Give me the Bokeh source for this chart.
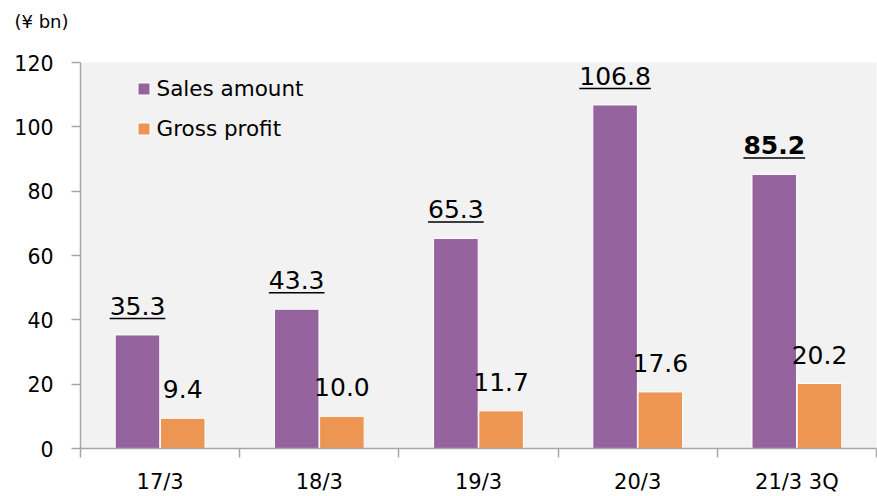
import numpy as np
from bokeh.plotting import figure
from bokeh.models import ColumnDataSource, FixedTicker, Legend, LegendItem, Range1d
from bokeh.core.properties import value
from bokeh.embed import file_html
from bokeh.resources import INLINE

# ---- data ----
categories = ["17/3", "18/3", "19/3", "20/3", "21/3 3Q"]
sales = [35.3, 43.3, 65.3, 106.8, 85.2]
gross = [9.4, 10.0, 11.7, 17.6, 20.2]
y_ticks = [0, 20, 40, 60, 80, 100, 120]
series_names = ["Sales amount", "Gross profit"]
unit_label = "(¥ bn)"
highlight_index = 4

# ---- style ----
FONT = "DejaVu Sans"
PURPLE = "#95649F"
ORANGE = "#ED9553"
AXIS = "#A6A6A6"
TXT = "#000000"

W, H = 877, 496
BL, BR, BT, BB = 80, 1, 62, 46
frame_w = W - BL - BR
frame_h = H - BT - BB
y_max = 120
px_per_unit = frame_h / y_max
px_per_cat = frame_w / len(categories)

LABEL_PX = 25
off = 0.142
bw = 0.28

x_c = np.arange(len(categories)) + 0.5

p = figure(width=W, height=H, output_backend="svg", toolbar_location=None,
           x_range=Range1d(0, len(categories)), y_range=Range1d(0, y_max),
           min_border_left=BL, min_border_right=BR, min_border_top=BT, min_border_bottom=BB,
           background_fill_color="#F2F2F2", border_fill_color="white",
           outline_line_color=None)

# bars
src = ColumnDataSource(dict(xs=x_c - off, xg=x_c + off, sales=sales, gross=gross,
                            tg=[f"{v:.1f}" for v in gross]))
r_s = p.vbar(x="xs", top="sales", width=bw, source=src, fill_color=PURPLE,
             line_color="white", line_width=1)
r_g = p.vbar(x="xg", top="gross", width=bw, source=src, fill_color=ORANGE,
             line_color="white", line_width=1)

# value labels
styles = ["bold" if i == highlight_index else "normal" for i in range(len(categories))]
src_s = ColumnDataSource(dict(x=x_c - off, y=sales, t=[f"{v:.1f}" for v in sales], st=styles))
p.text(x="x", y="y", text="t", source=src_s, text_font=value(FONT),
       text_font_size=f"{LABEL_PX}px", text_font_style="st", text_color=TXT,
       text_align="center", text_baseline="alphabetic", y_offset=-29)
p.text(x="xg", y="gross", text="tg", source=src, text_font=value(FONT),
       text_font_size=f"{LABEL_PX}px", text_color=TXT,
       text_align="center", text_baseline="alphabetic", y_offset=-29)

# underline for sales labels
def text_width(s, bold):
    digit = 0.696 if bold else 0.636
    dot = 0.380 if bold else 0.318
    return sum(dot if ch == "." else digit for ch in s) * LABEL_PX

uw = np.array([text_width(f"{v:.1f}", st == "bold") / px_per_cat for v, st in zip(sales, styles)])
uy = [v + 16.5 / px_per_unit for v in sales]
p.segment(x0=list(x_c - off - uw / 2), x1=list(x_c - off + uw / 2),
          y0=uy, y1=uy, line_color=TXT, line_width=1.5)

# axes
p.xgrid.visible = False
p.ygrid.visible = False

xa = p.xaxis[0]
xa.ticker = FixedTicker(ticks=list(x_c), minor_ticks=list(range(len(categories) + 1)))
xa.major_label_overrides = {float(x): c for x, c in zip(x_c, categories)}
xa.major_tick_line_color = None
xa.minor_tick_in = 0
xa.minor_tick_out = 9
xa.minor_tick_line_color = AXIS
xa.minor_tick_line_width = 1.5
xa.axis_line_color = AXIS
xa.axis_line_width = 1.5
xa.major_label_text_font = FONT
xa.major_label_text_font_size = "21px"
xa.major_label_text_color = TXT
xa.major_label_standoff = 12

ya = p.yaxis[0]
ya.ticker = FixedTicker(ticks=y_ticks, minor_ticks=[])
ya.major_tick_in = 0
ya.major_tick_out = 9
ya.major_tick_line_color = AXIS
ya.major_tick_line_width = 1.5
ya.minor_tick_line_color = None
ya.axis_line_color = AXIS
ya.axis_line_width = 1.5
ya.major_label_text_font = FONT
ya.major_label_text_font_size = "20.5px"
ya.major_label_text_color = TXT
ya.major_label_standoff = 18

# legend
legend = Legend(items=[LegendItem(label=series_names[0], renderers=[r_s]),
                       LegendItem(label=series_names[1], renderers=[r_g])],
                location=(55.5, 307), orientation="vertical",
                background_fill_alpha=0, border_line_color=None,
                padding=0, margin=0, spacing=15,
                glyph_width=15, glyph_height=15, label_height=24,
                label_standoff=6, label_text_font=FONT,
                label_text_font_size="21.5px", label_text_color=TXT)
p.add_layout(legend)

# unit title
p.title.text = unit_label
p.title.align = "left"
p.title.vertical_align = "top"
p.title.offset = -66
p.title.text_font = FONT
p.title.text_font_size = "18px"
p.title.text_font_style = "normal"
p.title.text_color = TXT
p.title.standoff = 14
p.title.padding = (0, 0, 0, 22)

open("out.html", "w").write(file_html(p, INLINE))
